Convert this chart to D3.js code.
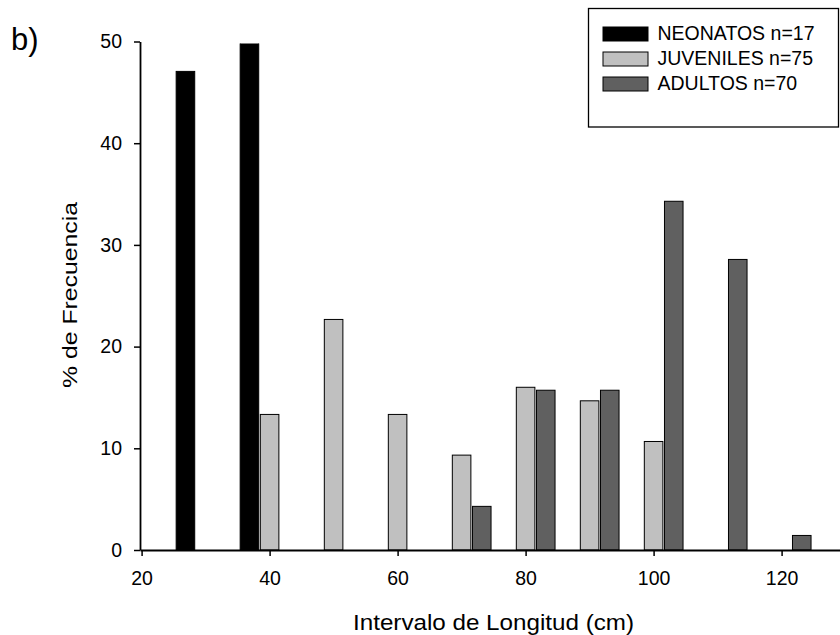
<!DOCTYPE html>
<html>
<head>
<meta charset="utf-8">
<script src="https://cdn.jsdelivr.net/npm/d3@7"></script>
<style>
  html, body { margin: 0; padding: 0; background: #fff; }
  svg { display: block; font-family: "Liberation Sans", Arial, Helvetica, sans-serif; }
</style>
</head>
<body>
<svg id="chart" width="840" height="635"></svg>
<script>
// Length classes (cm), centre of each interval
const intervals = [30, 40, 50, 60, 70, 80, 90, 100, 110, 120];

// Frequency (%) per length class for each age group
const neonatos  = [47.06, 52.94, 0, 0, 0, 0, 0, 0, 0, 0];
const juveniles = [0, 13.33, 22.67, 13.33, 9.33, 16.00, 14.67, 10.67, 0, 0];
const adultos   = [0, 0, 0, 0, 4.29, 15.71, 15.71, 34.29, 28.57, 1.43];

const seriesNames  = ["NEONATOS n=17", "JUVENILES n=75", "ADULTOS n=70"];
const seriesColors = ["#000000", "#c0c0c0", "#606060"];

const xTicks = [20, 40, 60, 80, 100, 120];
const yTicks = [0, 10, 20, 30, 40, 50];

const svg = d3.select("#chart");

const x = d3.scaleLinear().domain([19.75, 130]).range([140, 845.6]);
const y = d3.scaleLinear().domain([0, 50]).range([550, 41.5]);

// bars sit side by side around each class centre
const barOffset = 3.15;
const barWidth = 2.9;
const series = [neonatos, juveniles, adultos];
const offsets = [-barOffset, 0, barOffset];

svg.append("defs").append("clipPath").attr("id", "plotClip")
  .append("rect")
  .attr("x", x.range()[0]).attr("y", y(49.8))
  .attr("width", x.range()[1] - x.range()[0])
  .attr("height", y(0) - y(49.8) + 2);

const barsG = svg.append("g").attr("clip-path", "url(#plotClip)");
series.forEach((vals, si) => {
  const data = intervals.map((c, i) => ({ c, v: vals[i] })).filter(d => d.v > 0);
  barsG.selectAll(null)
    .data(data)
    .enter().append("rect")
    .attr("x", d => x(d.c + offsets[si] - barWidth / 2))
    .attr("width", d => x(d.c + barWidth / 2) - x(d.c - barWidth / 2))
    .attr("y", d => y(d.v))
    .attr("height", d => y(0) - y(d.v))
    .attr("fill", seriesColors[si])
    .attr("stroke", "#000")
    .attr("stroke-width", 1);
});

// axes
const xAxis = d3.axisBottom(x).tickValues(xTicks).tickSize(6).tickSizeOuter(0).tickPadding(15.5);
const yAxis = d3.axisLeft(y).tickValues(yTicks).tickSize(6).tickSizeOuter(0).tickPadding(12);

const gx = svg.append("g").attr("transform", `translate(0,${y(0)})`).call(xAxis);
const gy = svg.append("g").attr("transform", `translate(${x.range()[0]},0)`).call(yAxis);

[gx, gy].forEach(g => {
  g.select(".domain").attr("stroke", "#000").attr("stroke-width", 1.8);
  g.selectAll(".tick line").attr("stroke", "#000").attr("stroke-width", 1.5);
  g.selectAll(".tick text")
    .attr("fill", "#000")
    .style("font-size", "19.5px")
    .style("font-family", '"Liberation Sans", Arial, sans-serif');
});

// axis titles
svg.append("text")
  .attr("x", 493.5).attr("y", 630)
  .attr("text-anchor", "middle")
  .attr("textLength", 281).attr("lengthAdjust", "spacingAndGlyphs")
  .style("font-size", "22px")
  .text("Intervalo de Longitud (cm)");

svg.append("text")
  .attr("transform", "translate(77,295) rotate(-90)")
  .attr("text-anchor", "middle")
  .attr("textLength", 186).attr("lengthAdjust", "spacingAndGlyphs")
  .style("font-size", "21px")
  .text("% de Frecuencia");

// panel letter
svg.append("text")
  .attr("x", 11).attr("y", 50)
  .style("font-size", "31px")
  .text("b)");

// legend
const legend = svg.append("g");
legend.append("rect")
  .attr("x", 588.5).attr("y", 8.5)
  .attr("width", 250).attr("height", 118.5)
  .attr("fill", "#fff").attr("stroke", "#000").attr("stroke-width", 1.3);

seriesNames.forEach((name, i) => {
  const base = 39.5 + i * 25;
  legend.append("rect")
    .attr("x", 603).attr("y", base - 12.5)
    .attr("width", 45).attr("height", 14)
    .attr("fill", seriesColors[i]).attr("stroke", "#000").attr("stroke-width", 1);
  legend.append("text")
    .attr("x", 657.5).attr("y", base)
    .style("font-size", "19.5px")
    .text(name);
});
</script>
</body>
</html>
